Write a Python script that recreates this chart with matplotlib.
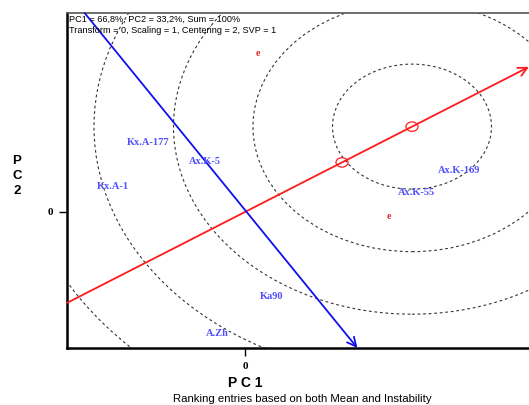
import numpy as np
import matplotlib
matplotlib.use('Agg')
import matplotlib.pyplot as plt
from matplotlib.patches import Circle

# genotype scores (PC1, PC2)
genotypes = ['Kx.A-177', 'Ax.K-5', 'Kx.A-1', 'Ax.K-169', 'Ax.K-55', 'Ka90', 'A.Zh']
g_pc1 = [-0.97, -0.40, -1.32, 2.14, 1.71, 0.27, -0.28]
g_pc2 = [0.88, 0.64, 0.32, 0.53, 0.25, -1.07, -1.54]

# environment scores, labelled 'e'
e_pc1 = [0.13, 1.44]
e_pc2 = [2.02, -0.06]

# average environment point and ideal entry
mean_pt = (0.97, 0.63)
ideal_pt = (1.67, 1.085)
ring_step = 0.795
n_rings = 6

header1 = 'PC1 = 66,8%, PC2 = 33,2%, Sum = 100%'
header2 = 'Transform = 0, Scaling = 1, Centering = 2, SVP = 1'
footer = 'Ranking entries based on both Mean and Instability'

xmin, xmax = -1.78, 2.90
ymin, ymax = -1.73, 2.53

fig = plt.figure(figsize=(5.29, 4.05), dpi=100)
ax = fig.add_axes([67/529, 57/405, 468/529, 335/405])
ax.set_xlim(xmin, xmax)
ax.set_ylim(ymin, ymax)

# concentric rings around the ideal entry
for k in range(1, n_rings + 1):
    ax.add_patch(Circle(ideal_pt, k * ring_step, fill=False, ec='#333333',
                        lw=0.8, ls=(0, (2.5, 2.5)), zorder=1))

# average environment axis (red) and its perpendicular (blue)
slope = ideal_pt[1] / ideal_pt[0]
rx0, rx1 = xmin, 2.84
ax.annotate('', xy=(rx1, slope * rx1), xytext=(rx0, slope * rx0),
            arrowprops=dict(arrowstyle='->', color='#ff1a1a', lw=1.3,
                            mutation_scale=16, shrinkA=0, shrinkB=0), zorder=3)
bslope = -1 / slope
by0, by1 = ymax, ymin
ax.annotate('', xy=(by1 / bslope, by1), xytext=(by0 / bslope + 0.04, by0),
            arrowprops=dict(arrowstyle='->', color='#1010ee', lw=1.3,
                            mutation_scale=16, shrinkA=0, shrinkB=0),
            annotation_clip=False, zorder=3)

for p in (mean_pt, ideal_pt):
    ax.add_patch(Circle(p, 0.06, fill=False, ec='#ff2020', lw=0.9, zorder=4))

for name, x, y in zip(genotypes, g_pc1, g_pc2):
    ax.text(x, y, name, color='#5050ff', fontsize=7.5, family='Liberation Serif',
            fontweight='bold', ha='center', va='center', zorder=5)

for x, y in zip(e_pc1, e_pc2):
    ax.text(x, y, 'e', color='#e02020', fontsize=7, family='Liberation Serif',
            fontweight='bold', ha='center', va='center', zorder=5)

ax.text(0.005, 0.995, header1 + '\n' + header2, transform=ax.transAxes,
        fontsize=6.6, family='Liberation Sans', va='top', ha='left',
        linespacing=1.3, zorder=6)

# axes frame
for s in ('left', 'bottom'):
    ax.spines[s].set_linewidth(1.8)
    ax.spines[s].set_color('black')
ax.spines['top'].set_linewidth(1.2)
ax.spines['top'].set_color('#555555')
ax.spines['right'].set_visible(False)

ax.set_xticks([0])
ax.set_yticks([0])
ax.set_xticklabels(['0'])
ax.set_yticklabels(['0'])
ax.tick_params(length=6, width=1, pad=4, labelsize=8)
for lab in ax.get_xticklabels() + ax.get_yticklabels():
    lab.set_fontweight('bold')
    lab.set_family('Liberation Serif')

fig.text(245/529, 1 - 383/405, 'P C 1', ha='center', va='center',
         fontsize=10, fontweight='bold', family='Liberation Sans')
fig.text(17/529, 1 - 176/405, 'P\nC\n2', ha='center', va='center',
         fontsize=9.5, fontweight='bold', family='Liberation Sans', linespacing=1.3)
fig.text(302/529, 1 / 405, footer, ha='center', va='bottom',
         fontsize=8.2, family='Liberation Sans')

fig.savefig('out.png', dpi=100)
